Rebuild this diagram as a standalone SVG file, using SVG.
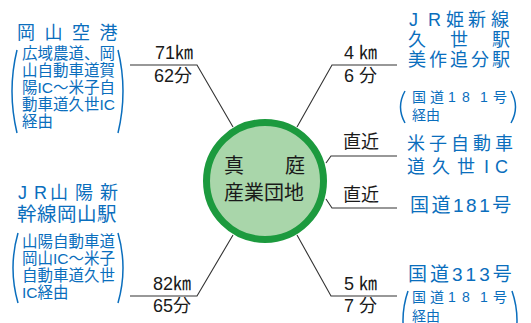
<svg xmlns="http://www.w3.org/2000/svg" width="531" height="323" viewBox="0 0 531 323">
<style>
.k{font-family:"Liberation Sans","Noto Sans CJK JP",sans-serif;fill:#1a1a1a;font-size:18px}
.u{font-family:"Noto Sans CJK JP",sans-serif}
.c{font-family:"Noto Sans CJK JP",sans-serif;fill:#1a1a1a;font-size:20px}
.b{font-family:"Liberation Sans","Noto Sans CJK JP",sans-serif;fill:#0a6ebd}
.t{font-size:18px}
.s{font-size:15.5px}
.m{font-size:14px}
.ln{fill:none;stroke:#333;stroke-width:1.1}
.p{fill:none;stroke:#0a6ebd;stroke-width:1.5}
</style>
<rect width="531" height="323" fill="#fff"/>
<g id="connectors">
<path class="ln" d="M130,65 H197 L233,127"/>
<path class="ln" d="M297,127 L332,65 H397"/>
<path class="ln" d="M326,163 L331,156 H397"/>
<path class="ln" d="M326,199 L332,208 H397"/>
<path class="ln" d="M233,235 L197,296 H130"/>
<path class="ln" d="M297,235 L331,296 H397"/>
</g>
<g id="center">
<circle cx="265" cy="181" r="58.5" fill="#a9d6aa" stroke="#1c9a3e" stroke-width="7"/>
<text class="c" x="224" y="173">真</text>
<text class="c" x="285" y="173">庭</text>
<text class="c" x="224" y="200">産業団地</text>
</g>
<g id="labels">
<text class="k" x="193" y="59" text-anchor="end">71<tspan class="u">㎞</tspan></text>
<text class="k" x="192" y="82" text-anchor="end">62分</text>
<text class="k" x="377" y="59" text-anchor="end">4 <tspan class="u">㎞</tspan></text>
<text class="k" x="377" y="82" text-anchor="end">6 分</text>
<text class="k" x="343" y="148">直近</text>
<text class="k" x="343" y="201">直近</text>
<text class="k" x="191" y="290" text-anchor="end">82<tspan class="u">㎞</tspan></text>
<text class="k" x="191" y="312" text-anchor="end">65分</text>
<text class="k" x="377" y="290" text-anchor="end">5 <tspan class="u">㎞</tspan></text>
<text class="k" x="377" y="312" text-anchor="end">7 分</text>
</g>
<g id="okayama-airport">
<text class="b t" x="17" y="39" letter-spacing="9.5">岡山空港</text>
<path class="p" d="M17,50 Q7,91 17,133"/>
<path class="p" d="M118,50 Q128,91 118,133"/>
<text class="b s" x="22" y="59">広域農道、岡</text>
<text class="b s" x="22" y="76">山自動車道賀</text>
<text class="b s" x="22" y="93">陽IC～米子自</text>
<text class="b s" x="22" y="110">動車道久世IC</text>
<text class="b s" x="22" y="127">経由</text>
</g>
<g id="jr-kishin">
<text class="b t" x="409 428 446 468 491" y="25.5">JR姫新線</text>
<text class="b t" x="408 450 492" y="45.5">久世駅</text>
<text class="b t" x="408" y="65.5" letter-spacing="3">美作追分駅</text>
<path class="p" d="M405,91 Q396,107 405,123"/>
<path class="p" d="M511,91 Q520,107 511,123"/>
<text class="b m" x="412 430 448 462 480 493" y="102">国道181号</text>
<text class="b m" x="412" y="120">経由</text>
</g>
<g id="yonago-ic">
<text class="b t" x="407" y="150" letter-spacing="4">米子自動車</text>
<text class="b t" x="407 432 457 484 495" y="173">道久世IC</text>
</g>
<g id="route181">
<text class="b" x="410" y="212" font-size="19" letter-spacing="2.5">国道181号</text>
</g>
<g id="route313">
<text class="b" x="408" y="281" font-size="19" letter-spacing="3">国道313号</text>
<path class="p" d="M408,291 Q398,320 408,350"/>
<path class="p" d="M512,291 Q522,320 512,350"/>
<text class="b m" x="412 430 448 462 480 493" y="302">国道181号</text>
<text class="b m" x="412" y="321">経由</text>
</g>
<g id="jr-okayama">
<text class="b t" x="18 34 50 75 100" y="198.5">JR山陽新</text>
<text class="b" x="17" y="220.5" font-size="19.5" letter-spacing="0.5">幹線岡山駅</text>
<path class="p" d="M18,233 Q8,268 18,303"/>
<path class="p" d="M118,233 Q128,268 118,303"/>
<text class="b s" x="22" y="247">山陽自動車道</text>
<text class="b s" x="22" y="264">岡山IC～米子</text>
<text class="b s" x="22" y="281">自動車道久世</text>
<text class="b s" x="22" y="298">IC経由</text>
</g>
</svg>
